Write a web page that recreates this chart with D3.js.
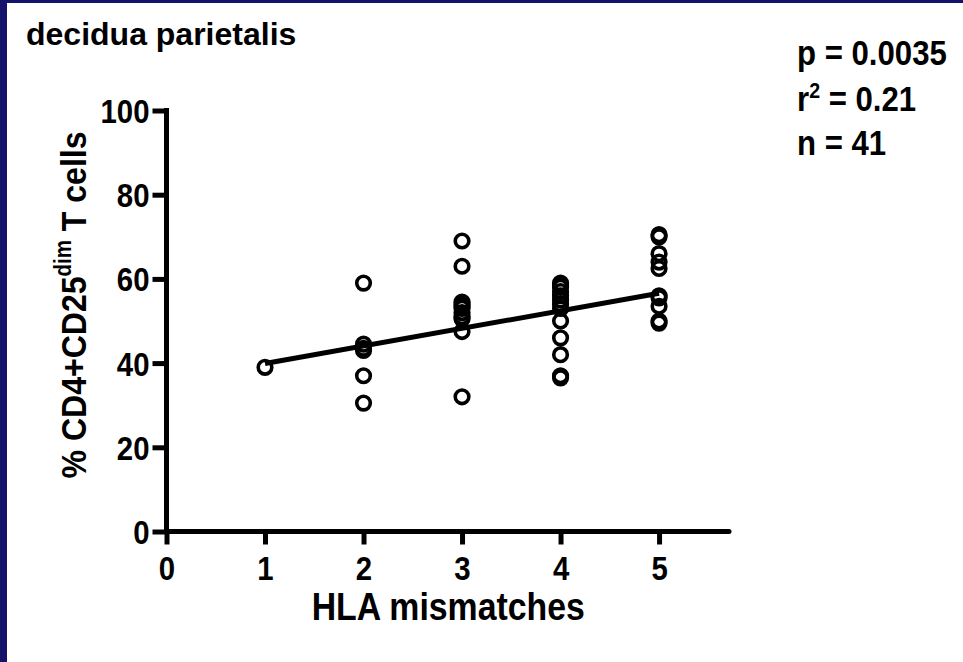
<!DOCTYPE html>
<html>
<head>
<meta charset="utf-8">
<script src="https://cdn.jsdelivr.net/npm/d3@7"></script>
<style>
  body { margin: 0; background: #fff; }
  svg { display: block; }
  text { font-family: "Liberation Sans", Arial, sans-serif; font-weight: bold; fill: #000; }
</style>
</head>
<body>
<svg width="963" height="662"></svg>
<script>
const width = 963;
const height = 662;

// values, one array per mismatch group
const mismatches = [1, 2, 3, 4, 5];
const group1 = [39];
const group2 = [59, 44.5, 43.5, 43, 37, 30.5];
const group3 = [69, 63, 54.5, 54, 53.5, 53, 52, 51, 50.5, 47.5, 32];
const group4 = [59, 58.5, 58, 57, 56, 55, 54, 53, 50, 46, 42, 37, 36.5];
const group5 = [70.5, 70, 66, 64, 62.5, 56, 55.5, 53.5, 50, 49.5];
const groups = [group1, group2, group3, group4, group5];

// regression line end points
const fitX = [1, 5];
const fitY = [39.9, 56.6];

const xTicks = [0, 1, 2, 3, 4, 5];
const yTicks = [0, 20, 40, 60, 80, 100];
const stats = ["p = 0.0035", "r2 = 0.21", "n = 41"];

const points = [];
groups.forEach((g, i) => g.forEach(v => points.push({ x: mismatches[i], y: v })));

const x = d3.scaleLinear().domain([0, 5.71]).range([166.5, 729]);
const y = d3.scaleLinear().domain([0, 100]).range([531.5, 110.5]);

const svg = d3.select("svg")
    .attr("viewBox", [0, 0, width, height]);

// the original font is a narrow helvetica, squeeze liberation a bit
const squeeze = 0.89;
function placed(sel, tx, ty, rot) {
    return sel.attr("transform", `translate(${tx},${ty})` + (rot ? ` rotate(${rot})` : "") + ` scale(${squeeze},1)`);
}

// frame
svg.append("rect").attr("x", 0).attr("y", 0).attr("width", width).attr("height", 3).attr("fill", "#13136b");
svg.append("rect").attr("x", 0).attr("y", 0).attr("width", 7).attr("height", height).attr("fill", "#13136b");

// title
svg.append("text")
    .attr("x", 26).attr("y", 45)
    .attr("font-size", 32)
    .text("decidua parietalis");

// stats
const st = svg.append("g").attr("font-size", 35);
placed(st.append("text"), 797, 65).text(stats[0]);
const r2 = placed(st.append("text"), 797, 111);
r2.append("tspan").text("r");
r2.append("tspan").attr("font-size", 22).attr("dy", -13).text("2");
r2.append("tspan").attr("dy", 13).text(stats[1].slice(2));
placed(st.append("text"), 797, 155).text(stats[2]);

// axes
const xAxis = svg.append("g")
    .attr("transform", `translate(0,${y(0)})`)
    .call(d3.axisBottom(x).tickValues(xTicks).tickSize(13).tickFormat(d3.format("d")));

const yAxis = svg.append("g")
    .attr("transform", `translate(${x(0)},0)`)
    .call(d3.axisLeft(y).tickValues(yTicks).tickSize(14).tickFormat(d3.format("d")));

[xAxis, yAxis].forEach(a => {
    a.select(".domain").remove();
    a.selectAll(".tick line").attr("stroke", "#000").attr("stroke-width", 5);
    a.selectAll(".tick text")
        .attr("font-family", "'Liberation Sans', Arial, sans-serif")
        .attr("font-weight", "bold")
        .attr("font-size", 33)
        .attr("fill", "#000")
        .attr("x", null).attr("y", null).attr("dy", null);
});
xAxis.selectAll(".tick text").each(function () { placed(d3.select(this), 0, 48); });
yAxis.selectAll(".tick text").each(function () { placed(d3.select(this), -17, 12); });

svg.append("line")
    .attr("x1", x(0)).attr("x2", x(5.71)).attr("y1", y(0)).attr("y2", y(0))
    .attr("stroke", "#000").attr("stroke-width", 5).attr("stroke-linecap", "round");
svg.append("line")
    .attr("x1", x(0)).attr("x2", x(0)).attr("y1", y(0)).attr("y2", y(100))
    .attr("stroke", "#000").attr("stroke-width", 5).attr("stroke-linecap", "square");

// axis titles
placed(svg.append("text"), x(2.86), 620, 0)
    .attr("text-anchor", "middle")
    .attr("font-size", 38)
    .text("HLA mismatches");

const yl = placed(svg.append("text"), 86, 305, -90)
    .attr("text-anchor", "middle")
    .attr("font-size", 36);
yl.append("tspan").text("% CD4+CD25");
yl.append("tspan").attr("font-size", 23).attr("dy", -15).text("dim");
yl.append("tspan").attr("dy", 15).text(" T cells");

// regression line
svg.append("line")
    .attr("x1", x(fitX[0])).attr("y1", y(fitY[0]))
    .attr("x2", x(fitX[1])).attr("y2", y(fitY[1]))
    .attr("stroke", "#000").attr("stroke-width", 5);

// points
svg.append("g")
    .selectAll("circle")
    .data(points)
    .join("circle")
    .attr("cx", d => x(d.x))
    .attr("cy", d => y(d.y))
    .attr("r", 6.8)
    .attr("fill", "none")
    .attr("stroke", "#000")
    .attr("stroke-width", 3.6);
</script>
</body>
</html>
